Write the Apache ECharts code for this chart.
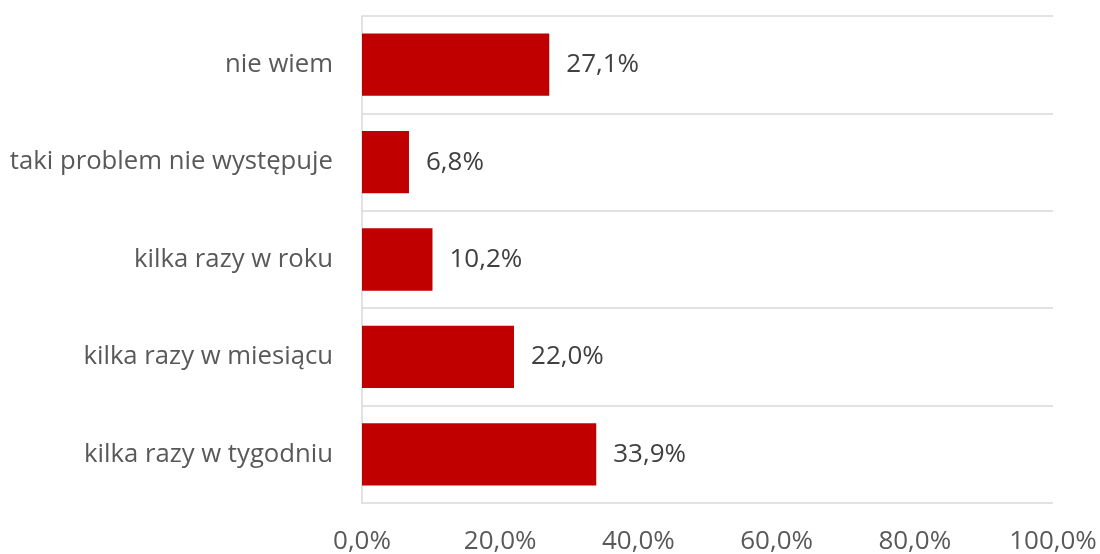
<!DOCTYPE html>
<html>
<head>
<meta charset="utf-8">
<script src="https://cdn.jsdelivr.net/npm/echarts@6/dist/echarts.min.js"></script>
<style>
  html, body { margin: 0; padding: 0; background: #ffffff; }
  #chart { width: 1100px; height: 554px; }
</style>
</head>
<body>
<div id="chart"></div>
<script>
// Answers, listed bottom to top as the category axis draws them
const categories = [
  'kilka razy w tygodniu',
  'kilka razy w miesiącu',
  'kilka razy w roku',
  'taki problem nie występuje',
  'nie wiem'
];
// Share of responses, in percent
const shares = [33.9, 22.0, 10.2, 6.8, 27.1];
// Value axis range and step, in percent
const axisMin = 0;
const axisMax = 100;
const axisStep = 20;

const FONT = '"Open Sans", sans-serif';
const pct = v => v.toFixed(1).replace('.', ',') + '%';

const chart = echarts.init(document.getElementById('chart'), null, { renderer: 'canvas' });
chart.setOption({
  animation: false,
  backgroundColor: '#ffffff',
  grid: {
    left: 362, right: 47, top: 16, bottom: 51,
    containLabel: false,
    outerBoundsMode: 'none'
  },
  xAxis: {
    type: 'value',
    min: axisMin,
    max: axisMax,
    interval: axisStep,
    axisLine: { show: false },
    axisTick: { show: false },
    splitLine: { show: false },
    axisLabel: {
      formatter: v => pct(v),
      color: '#595959',
      fontFamily: FONT,
      fontSize: 26,
      margin: 26
    }
  },
  yAxis: {
    type: 'category',
    data: categories,
    axisLine: { show: true, lineStyle: { color: '#D9D9D9', width: 1.5 } },
    axisTick: { show: false },
    splitLine: { show: true, lineStyle: { color: '#D9D9D9', width: 1.5 } },
    axisLabel: {
      color: '#595959',
      fontFamily: FONT,
      fontSize: 25.7,
      margin: 29
    }
  },
  series: [{
    type: 'bar',
    data: shares,
    barCategoryGap: '36%',
    itemStyle: { color: '#C00000' },
    label: {
      show: true,
      position: 'right',
      distance: 17,
      formatter: p => pct(p.value),
      color: '#404040',
      fontFamily: FONT,
      fontSize: 26
    }
  }]
});
</script>
</body>
</html>
